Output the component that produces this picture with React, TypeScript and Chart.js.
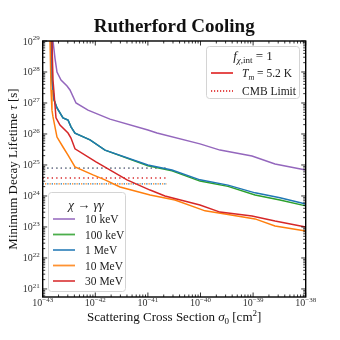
import { useEffect, useRef } from 'react';
import { Chart, registerables } from 'chart.js';
Chart.register(...registerables);

// ---- data ----
const sigma10keV = [1.57e-43, 1.71e-43, 1.87e-43, 2.23e-43, 2.9e-43, 3.3e-43, 4.3e-43, 7.26e-43, 1.9e-42, 1.0e-41, 1.49e-41, 9.77e-41, 2.35e-40, 9.53e-40, 2.61e-39, 1e-38];
const tau10keV = [1e29, 2.82e28, 1e28, 5.5e27, 3.55e27, 2.63e27, 1e27, 5.89e26, 3.02e26, 1.35e26, 1.07e26, 4.79e25, 3.02e25, 1.95e25, 1.07e25, 6.92e24];

const sigma100keV = [1.44e-43, 1.5e-43, 1.64e-43, 1.87e-43, 2.43e-43, 3.03e-43, 3.45e-43, 4.11e-43, 7.93e-43, 1.53e-42, 1.0e-41, 2.87e-41, 9.77e-41, 3.33e-40, 1.09e-39, 3.24e-39, 1e-38];
const tau100keV = [1e29, 5.5e27, 1.26e27, 6.92e26, 3.31e26, 2.82e26, 1.7e26, 1.07e26, 6.46e25, 3.02e25, 9.5e24, 6.46e24, 3.02e24, 2.04e24, 1.07e24, 7.41e23, 4.79e23];

const sigma1MeV = [1.44e-43, 1.5e-43, 1.64e-43, 1.87e-43, 2.43e-43, 3.03e-43, 3.45e-43, 4.11e-43, 7.93e-43, 1.53e-42, 1.0e-41, 2.87e-41, 9.77e-41, 3.33e-40, 1.09e-39, 3.24e-39, 1e-38];
const tau1MeV = [1e29, 5.5e27, 1.26e27, 6.92e26, 3.31e26, 2.82e26, 1.7e26, 1.07e26, 6.46e25, 3.02e25, 1e25, 6.92e24, 3.31e24, 2.24e24, 1.26e24, 8.71e23, 5.5e23];

const sigma10MeV = [1.38e-43, 1.44e-43, 1.5e-43, 1.57e-43, 1.87e-43, 2.43e-43, 3.03e-43, 4.11e-43, 9.04e-43, 1.53e-42, 2.95e-42, 1.1e-41, 3.27e-41, 1.22e-40, 2.92e-40, 1.09e-39, 2.61e-39, 1e-38];
const tau10MeV = [1e29, 2.63e27, 5.89e26, 3.55e26, 7.94e25, 3.8e25, 2.09e25, 8.71e24, 4.79e24, 3.31e24, 1.95e24, 1.07e24, 7.41e23, 3.31e23, 2.63e23, 1.82e23, 1.07e23, 7.41e22];

const sigma30MeV = [1.5e-43, 1.57e-43, 1.71e-43, 1.79e-43, 2.13e-43, 3.03e-43, 3.45e-43, 4.11e-43, 1.03e-42, 4.01e-42, 1.1e-41, 2.11e-41, 9.77e-41, 2.35e-40, 9.53e-40, 2.61e-39, 1e-38];
const tau30MeV = [1e29, 5.5e27, 8.71e26, 3.31e26, 1.95e26, 1.07e26, 7.41e25, 3.31e25, 1.26e25, 3.31e24, 1.55e24, 1e24, 5.13e23, 3.02e23, 2.24e23, 1.55e23, 1e23];

// CMB limits (horizontal dotted lines)
const cmbSigma = [1e-43, 2.3e-41];
const cmbTau10keV = 7.9e24;
const cmbTau100keV = 7.9e24;
const cmbTau1MeV = 2.45e24;
const cmbTau10MeV = 2.45e24;
const cmbTau30MeV = 3.8e24;

const massLabels = ['10 keV', '100 keV', '1 MeV', '10 MeV', '30 MeV'];
const massColors = ['#9467bd', '#2ca02c', '#1f77b4', '#ff7f0e', '#d62728'];

const xTickExps = [-43, -42, -41, -40, -39, -38];
const yTickExps = [21, 22, 23, 24, 25, 26, 27, 28, 29];
const xMin = 1e-43, xMax = 1e-38;
const yMin = 5.5e20, yMax = 1e29;

const FONT = '"Liberation Serif", "DejaVu Serif", serif';

type Seg = { t: string; f: string; dy?: number };

function drawSegs(ctx: CanvasRenderingContext2D, segs: Seg[], x: number, y: number, align: 'left' | 'center' | 'right') {
  const widths = segs.map(s => { ctx.font = s.f; return ctx.measureText(s.t).width; });
  const total = widths.reduce((a, b) => a + b, 0);
  let cx = align === 'center' ? x - total / 2 : align === 'right' ? x - total : x;
  segs.forEach((s, i) => {
    ctx.font = s.f;
    ctx.fillText(s.t, cx, y + (s.dy || 0));
    cx += widths[i];
  });
}

function pow10Label(e: number): Seg[] {
  const exp = e < 0 ? '\u2212' + Math.abs(e) : String(e);
  return [
    { t: '10', f: `10px ${FONT}` },
    { t: exp, f: `7px ${FONT}`, dy: -4.5 },
  ];
}

function roundRect(ctx: CanvasRenderingContext2D, x: number, y: number, w: number, h: number, r: number) {
  ctx.beginPath();
  ctx.moveTo(x + r, y);
  ctx.lineTo(x + w - r, y);
  ctx.arcTo(x + w, y, x + w, y + r, r);
  ctx.lineTo(x + w, y + h - r);
  ctx.arcTo(x + w, y + h, x + w - r, y + h, r);
  ctx.lineTo(x + r, y + h);
  ctx.arcTo(x, y + h, x, y + h - r, r);
  ctx.lineTo(x, y + r);
  ctx.arcTo(x, y, x + r, y, r);
  ctx.closePath();
}

const decorPlugin = {
  id: 'decor',
  afterDatasetsDraw(chart: any) {
    const ctx: CanvasRenderingContext2D = chart.ctx;
    const { left, right, top, bottom } = chart.chartArea;
    const xs = chart.scales.x, ys = chart.scales.y;
    ctx.save();
    ctx.strokeStyle = '#000';
    ctx.lineWidth = 0.8;
    ctx.beginPath();
    for (let e = xTickExps[0]; e <= xTickExps[xTickExps.length - 1]; e++) {
      for (let m = 1; m <= 9; m++) {
        const v = m * Math.pow(10, e);
        if (v > xMax * 1.0001) continue;
        const px = xs.getPixelForValue(v);
        const L = m === 1 ? 4.5 : 2.5;
        ctx.moveTo(px, bottom); ctx.lineTo(px, bottom - L);
        ctx.moveTo(px, top); ctx.lineTo(px, top + L);
      }
    }
    for (let e = 20; e <= yTickExps[yTickExps.length - 1]; e++) {
      for (let m = 1; m <= 9; m++) {
        const v = m * Math.pow(10, e);
        if (v < yMin || v > yMax * 1.0001) continue;
        const py = ys.getPixelForValue(v);
        const L = m === 1 ? 4.5 : 2.5;
        ctx.moveTo(left, py); ctx.lineTo(left + L, py);
        ctx.moveTo(right, py); ctx.lineTo(right - L, py);
      }
    }
    ctx.stroke();
    ctx.lineWidth = 1.4;
    ctx.strokeRect(left, top, right - left, bottom - top);

    // tick labels
    ctx.fillStyle = '#333';
    ctx.textBaseline = 'alphabetic';
    xTickExps.forEach(e => {
      const px = xs.getPixelForValue(Math.pow(10, e));
      drawSegs(ctx, pow10Label(e), px, bottom + 9, 'center');
    });
    yTickExps.forEach(e => {
      const py = ys.getPixelForValue(Math.pow(10, e));
      drawSegs(ctx, pow10Label(e), left - 3, py + 3.5, 'right');
    });

    // titles
    ctx.fillStyle = '#111';
    ctx.textBaseline = 'alphabetic';
    drawSegs(ctx, [{ t: 'Rutherford Cooling', f: `bold 19px ${FONT}` }], (left + right) / 2, 32, 'center');
    drawSegs(ctx, [
      { t: 'Scattering Cross Section ', f: `13px ${FONT}` },
      { t: '\u03c3', f: `italic 13px ${FONT}` },
      { t: '0', f: `9px ${FONT}`, dy: 2.5 },
      { t: ' [cm', f: `13px ${FONT}` },
      { t: '2', f: `9px ${FONT}`, dy: -5 },
      { t: ']', f: `13px ${FONT}` },
    ], (left + right) / 2, 321, 'center');
    ctx.save();
    ctx.translate(17, (top + bottom) / 2);
    ctx.rotate(-Math.PI / 2);
    drawSegs(ctx, [
      { t: 'Minimum Decay Lifetime ', f: `13px ${FONT}` },
      { t: '\u03c4', f: `italic 13px ${FONT}` },
      { t: ' [s]', f: `13px ${FONT}` },
    ], 0, 0, 'center');
    ctx.restore();

    // upper-right legend
    ctx.fillStyle = 'rgba(255,255,255,0.85)';
    ctx.strokeStyle = '#d4d4d4';
    ctx.lineWidth = 1;
    roundRect(ctx, 206.5, 46.5, 93, 52, 3);
    ctx.fill(); ctx.stroke();
    ctx.fillStyle = '#222';
    drawSegs(ctx, [
      { t: 'f', f: `italic 13px ${FONT}` },
      { t: '\u03c7', f: `italic 9px ${FONT}`, dy: 3 },
      { t: ',int', f: `9px ${FONT}`, dy: 3 },
      { t: ' = 1', f: `13px ${FONT}` },
    ], 253, 60, 'center');
    ctx.strokeStyle = '#dd1111';
    ctx.lineWidth = 1.5;
    ctx.beginPath(); ctx.moveTo(211, 73); ctx.lineTo(233, 73); ctx.stroke();
    ctx.setLineDash([1.2, 1.8]);
    ctx.beginPath(); ctx.moveTo(211, 91); ctx.lineTo(233, 91); ctx.stroke();
    ctx.setLineDash([]);
    drawSegs(ctx, [
      { t: 'T', f: `italic 11.5px ${FONT}` },
      { t: 'm', f: `italic 8px ${FONT}`, dy: 2.5 },
      { t: ' = 5.2 K', f: `11.5px ${FONT}` },
    ], 242, 77, 'left');
    drawSegs(ctx, [{ t: 'CMB Limit', f: `11.5px ${FONT}` }], 242, 95, 'left');

    // lower-left legend
    ctx.fillStyle = 'rgba(255,255,255,0.85)';
    ctx.strokeStyle = '#d4d4d4';
    ctx.lineWidth = 1;
    roundRect(ctx, 48.5, 192.5, 77, 99, 3);
    ctx.fill(); ctx.stroke();
    ctx.fillStyle = '#222';
    drawSegs(ctx, [
      { t: '\u03c7', f: `italic 13px ${FONT}` },
      { t: ' \u2192 ', f: `13px ${FONT}` },
      { t: '\u03b3\u03b3', f: `italic 13px ${FONT}` },
    ], 86, 209, 'center');
    massLabels.forEach((lab, i) => {
      const y = 219 + i * 15.5;
      ctx.strokeStyle = massColors[i];
      ctx.globalAlpha = 0.85;
      ctx.lineWidth = 1.8;
      ctx.beginPath(); ctx.moveTo(53, y); ctx.lineTo(75, y); ctx.stroke();
      ctx.globalAlpha = 1;
      drawSegs(ctx, [{ t: lab, f: `11.5px ${FONT}` }], 85, y + 4, 'left');
    });
    ctx.restore();
  },
};

function pts(xs: number[], ys: number[]) {
  return xs.map((x, i) => ({ x, y: ys[i] }));
}

export default function App() {
  const ref = useRef<HTMLCanvasElement>(null);
  useEffect(() => {
    document.body.style.margin = '0';
    const solid = (label: string, xs: number[], ys: number[], color: string) => ({
      label, data: pts(xs, ys), borderColor: color, backgroundColor: color,
      borderWidth: 1.5, pointRadius: 0, tension: 0, fill: false,
    });
    const dotted = (label: string, y: number, color: string, off: number) => ({
      label, data: pts(cmbSigma, [y, y]), borderColor: color, backgroundColor: color,
      borderWidth: 1.4, pointRadius: 0, borderDash: [1.3, 3.2], borderDashOffset: off, fill: false,
    });
    const chart = new Chart(ref.current!, {
      type: 'line',
      data: {
        datasets: [
          solid(massLabels[4], sigma30MeV, tau30MeV, massColors[4]),
          solid(massLabels[3], sigma10MeV, tau10MeV, massColors[3]),
          solid(massLabels[2], sigma1MeV, tau1MeV, massColors[2]),
          solid(massLabels[1], sigma100keV, tau100keV, massColors[1]),
          solid(massLabels[0], sigma10keV, tau10keV, massColors[0]),
          dotted('CMB 30 MeV', cmbTau30MeV, massColors[4], 0),
          dotted('CMB 10 MeV', cmbTau10MeV, massColors[3], 2.2),
          dotted('CMB 1 MeV', cmbTau1MeV, massColors[2], 0),
          dotted('CMB 10 keV', cmbTau10keV, massColors[0], 0),
          dotted('CMB 100 keV', cmbTau100keV, massColors[1], 0),
        ] as any,
      },
      options: {
        responsive: false,
        animation: false,
        devicePixelRatio: 1,
        layout: { padding: { top: 41, right: 34.3, left: 0, bottom: 0 } },
        plugins: { legend: { display: false }, tooltip: { enabled: false } },
        scales: {
          x: {
            type: 'logarithmic', min: xMin, max: xMax,
            ticks: { display: false }, grid: { display: false }, border: { display: false },
            afterFit: (s: any) => { s.height = 43; },
          },
          y: {
            type: 'logarithmic', min: yMin, max: yMax,
            ticks: { display: false }, grid: { display: false }, border: { display: false },
            afterFit: (s: any) => { s.width = 42.7; },
          },
        },
      } as any,
      plugins: [decorPlugin],
    });
    return () => chart.destroy();
  }, []);
  return (
    <div style={{ position: 'absolute', left: 0, top: 0, width: 340, height: 340, background: '#fff' }}>
      <canvas ref={ref} width={340} height={340} />
    </div>
  );
}
